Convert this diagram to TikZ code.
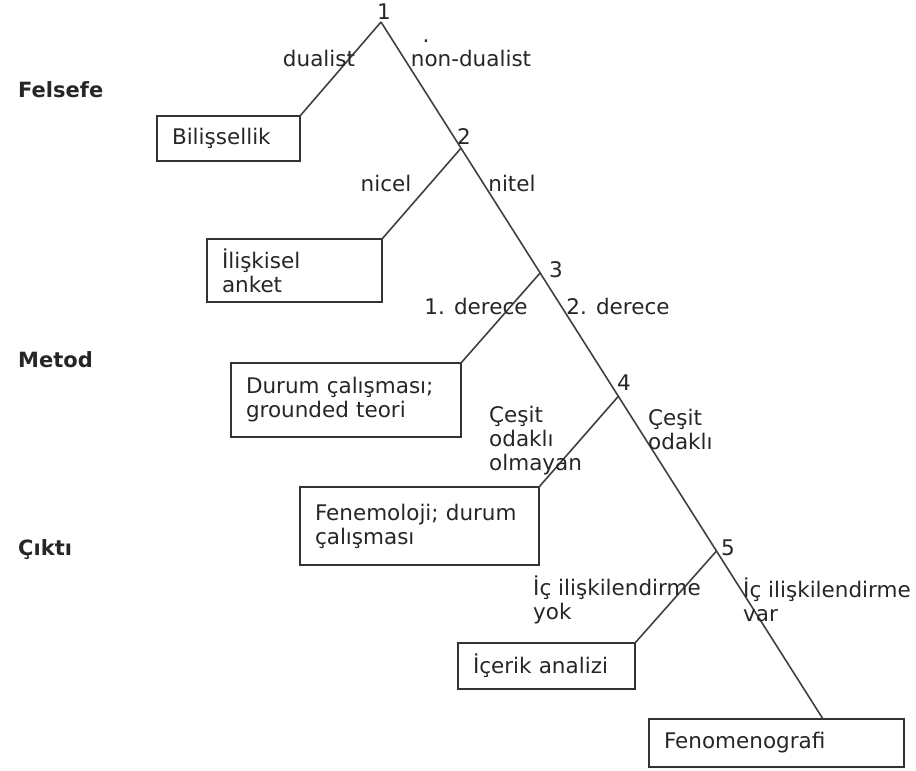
\documentclass[tikz,border=0pt]{standalone}
\usepackage{fontspec}
\setmainfont{DejaVu Sans}
\usetikzlibrary{positioning,calc}

\begin{document}
\begin{tikzpicture}[
    x=1pt,
    y=-1pt,
    font=\fontsize{21.5}{24}\selectfont,
    every node/.append style={text=black!85},
    box/.style={
        draw=black!80,
        line width=1.7pt,
        anchor=north east,
        align=left,
        inner xsep=15pt,
        inner ysep=0pt,
        outer sep=0pt
    },
    branch/.style={draw=black!75, line width=1.6pt},
    lbl/.style={inner sep=0pt},
    side/.style={lbl, anchor=west, align=left},
    level/.style={lbl, anchor=west, font=\fontsize{21}{24}\selectfont\bfseries}
]
\useasboundingbox (0,0) rectangle (916,771);

% ============================================================
% ANA HAT
% ============================================================
\coordinate (n1) at (381,22);
\coordinate (end) at (823,719);
\coordinate (n2) at ($(n1)!0.181!(end)$);
\coordinate (n3) at ($(n1)!0.360!(end)$);
\coordinate (n4) at ($(n1)!0.537!(end)$);
\coordinate (n5) at ($(n1)!0.759!(end)$);

\node[lbl] (k1) at (384,12) {1};
\node[lbl] (k2) at (464,137) {2};
\node[lbl] (k3) at (556,270) {3};
\node[lbl] (k4) at (624,383) {4};
\node[lbl] (k5) at (728,548) {5};

% ============================================================
% KUTULAR
% ============================================================
\node[box, text width=113pt, minimum height=45pt] (bil) at (300,116) {Bilişsellik};
\node[box, text width=145pt, minimum height=63pt] (ilis) at (382,239) {İlişkisel\\anket};
\node[box, text width=200pt, minimum height=74pt] (durum) at (461,363) {Durum çalışması;\\grounded teori};
\node[box, text width=209pt, minimum height=78pt] (fenem) at (539,487) {Fenemoloji; durum\\çalışması};
\node[box, text width=147pt, minimum height=46pt] (icerik) at (635,643) {İçerik analizi};
\node[box, text width=225pt, minimum height=48pt] (fgr) at (904,719) {Fenomenografi};

\draw[branch] (n1) -- (end);
\draw[branch] (n1) -- (bil.north east);
\draw[branch] (n2) -- (ilis.north east);
\draw[branch] (n3) -- (durum.north east);
\draw[branch] (n4) -- (fenem.north east);
\draw[branch] (n5) -- (icerik.north east);

% ============================================================
% DAL ETİKETLERİ
% ============================================================
\node[lbl] (dual) at (319,58) {dualist};
\node[lbl] (nondual) at (471,58) {non-dualist};
\node[lbl, anchor=base] (dot) at (426,42) {.};
\node[lbl] (nicel) at (386,183) {nicel};
\node[lbl] (nitel) at (512,183) {nitel};
\node[lbl] (der1) at (476,306) {1. derece};
\node[lbl] (der2) at (618,306) {2. derece};
\node[side] (cesit0) at (489,441) {Çeşit\\odaklı\\olmayan};
\node[side] (cesit1) at (648,429) {Çeşit\\odaklı};
\node[side] (ic0) at (533,600) {İç ilişkilendirme\\yok};
\node[side] (ic1) at (743,600) {İç ilişkilendirme\\var};

% ============================================================
% DÜZEYLER
% ============================================================
\node[level] (felsefe) at (18,90) {Felsefe};
\node[level] (metod) at (18,360) {Metod};
\node[level] (cikti) at (18,550) {Çıktı};

\end{tikzpicture}
\end{document}
